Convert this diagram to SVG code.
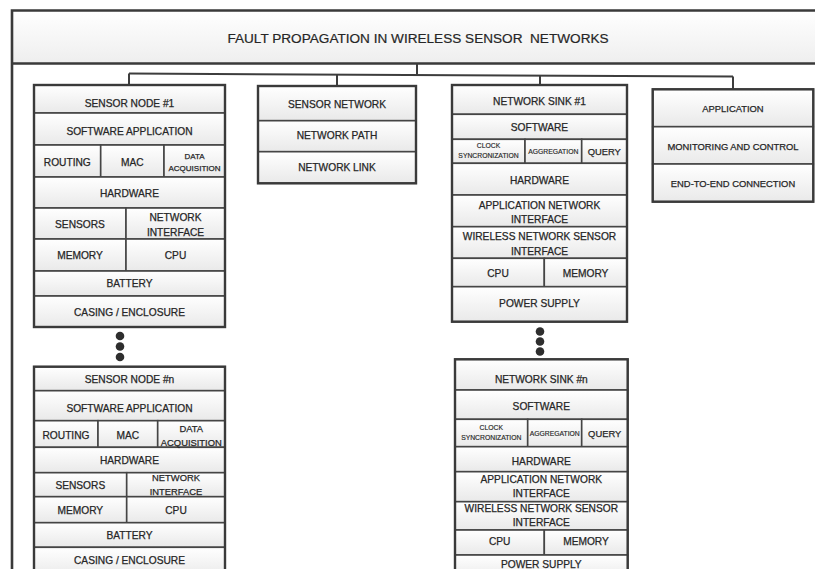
<svg xmlns="http://www.w3.org/2000/svg" width="815" height="569" viewBox="0 0 815 569">
  <defs>
    <linearGradient id="cellFill" x1="0" y1="0" x2="0" y2="1">
      <stop offset="0" stop-color="#ffffff"/>
      <stop offset="1" stop-color="#e9e9e9"/>
    </linearGradient>
    <linearGradient id="titleFill" x1="0" y1="0" x2="0" y2="1">
      <stop offset="0" stop-color="#ffffff"/>
      <stop offset="1" stop-color="#eeeeee"/>
    </linearGradient>
  </defs>
  <style>
    .cell { fill: url(#cellFill); stroke: #454545; stroke-width: 1.6; }
    .box { fill: none; stroke: #3a3a3a; stroke-width: 2.4; }
    .frame { fill: none; stroke: #3a3a3a; stroke-width: 2.6; }
    .wire { fill: none; stroke: #3d3d3d; stroke-width: 2; }
    .dot { fill: #2e2e2e; }
    text { font-family: "Liberation Sans", Arial, sans-serif; fill: #262626; stroke: #262626; stroke-width: 0.25; text-anchor: middle; }
    .t { font-size: 10.2px; }
    .ta { font-size: 9.4px; }
    .ts { font-size: 8px; }
    .tn { font-size: 9.4px; }
    .tq { font-size: 9.4px; }
    .tx { font-size: 6.8px; stroke-width: 0.15; }
    .title { font-size: 13.6px; white-space: pre; stroke-width: 0.2; }
  </style>

  <rect width="815" height="569" fill="#ffffff"/>

  <!-- outer frame and title band -->
  <g id="title">
    <rect x="12" y="10.5" width="820" height="53" fill="url(#titleFill)"/>
    <path class="frame" d="M12 580 V10.5 H830 M12 63.5 H830"/>
    <text class="title" x="418" y="43">FAULT PROPAGATION IN WIRELESS SENSOR  NETWORKS</text>
  </g>

  <!-- tree connectors from the title band -->
  <g id="connectors">
    <path class="wire" d="M417 63.5 V74.8"/>
    <path class="wire" d="M129 73.6 L733 76.6"/>
    <path class="wire" d="M129 73.6 V85"/>
    <path class="wire" d="M337 74.6 V86"/>
    <path class="wire" d="M540 75.6 V85"/>
    <path class="wire" d="M733 76.6 V89.3"/>
    <!-- ellipsis dots between first and n-th elements -->
    <circle class="dot" cx="120" cy="336" r="4.3"/>
    <circle class="dot" cx="120" cy="346.5" r="4.3"/>
    <circle class="dot" cx="120" cy="357" r="4.3"/>
    <circle class="dot" cx="540" cy="331.5" r="4.3"/>
    <circle class="dot" cx="540" cy="341.5" r="4.3"/>
    <circle class="dot" cx="540" cy="351.5" r="4.3"/>
  </g>

  <!-- sensor node #1 -->
  <g id="sensor-node-1">
    <rect class="cell" x="34" y="85" width="191" height="28"/>
    <rect class="cell" x="34" y="113" width="191" height="32"/>
    <rect class="cell" x="34" y="145" width="66.7" height="32"/>
    <rect class="cell" x="100.7" y="145" width="63.3" height="32"/>
    <rect class="cell" x="164" y="145" width="61" height="32"/>
    <rect class="cell" x="34" y="177" width="191" height="31"/>
    <rect class="cell" x="34" y="208" width="92" height="31"/>
    <rect class="cell" x="126" y="208" width="99" height="31"/>
    <rect class="cell" x="34" y="239" width="92" height="32"/>
    <rect class="cell" x="126" y="239" width="99" height="32"/>
    <rect class="cell" x="34" y="271" width="191" height="25"/>
    <rect class="cell" x="34" y="296" width="191" height="31"/>
    <rect class="box" x="34" y="85" width="191" height="242"/>
    <text class="t" x="129.5" y="107.3">SENSOR NODE #1</text>
    <text class="t" x="129.5" y="135">SOFTWARE APPLICATION</text>
    <text class="t" x="67.3" y="166">ROUTING</text>
    <text class="t" x="132.3" y="166">MAC</text>
    <text class="ts" x="194.5" y="159.3">DATA</text>
    <text class="ts" x="194.5" y="170.7">ACQUISITION</text>
    <text class="t" x="129.5" y="196.7">HARDWARE</text>
    <text class="t" x="80" y="228.3">SENSORS</text>
    <text class="t" x="175.5" y="220.7">NETWORK</text>
    <text class="t" x="175.5" y="236">INTERFACE</text>
    <text class="t" x="80" y="259.3">MEMORY</text>
    <text class="t" x="175.5" y="259.3">CPU</text>
    <text class="t" x="129.5" y="287.3">BATTERY</text>
    <text class="t" x="129.5" y="316">CASING / ENCLOSURE</text>
  </g>

  <!-- sensor network -->
  <g id="sensor-network">
    <rect class="cell" x="258" y="86" width="158" height="34.7"/>
    <rect class="cell" x="258" y="120.7" width="158" height="31"/>
    <rect class="cell" x="258" y="151.7" width="158" height="31.6"/>
    <rect class="box" x="258" y="86" width="158" height="97.3"/>
    <text class="t" x="337" y="108.3">SENSOR NETWORK</text>
    <text class="t" x="337" y="139.3">NETWORK PATH</text>
    <text class="t" x="337" y="170.7">NETWORK LINK</text>
  </g>

  <!-- network sink #1 -->
  <g id="network-sink-1">
    <rect class="cell" x="452" y="85" width="175" height="29.3"/>
    <rect class="cell" x="452" y="114.3" width="175" height="25"/>
    <rect class="cell" x="452" y="139.3" width="73" height="24"/>
    <rect class="cell" x="525" y="139.3" width="56.7" height="24"/>
    <rect class="cell" x="581.7" y="139.3" width="45.3" height="24"/>
    <rect class="cell" x="452" y="163.3" width="175" height="31.7"/>
    <rect class="cell" x="452" y="195" width="175" height="31.7"/>
    <rect class="cell" x="452" y="226.7" width="175" height="31.6"/>
    <rect class="cell" x="452" y="258.3" width="92.3" height="28.4"/>
    <rect class="cell" x="544.3" y="258.3" width="82.7" height="28.4"/>
    <rect class="cell" x="452" y="286.7" width="175" height="35"/>
    <rect class="box" x="452" y="85" width="175" height="236.7"/>
    <text class="t" x="539.5" y="105">NETWORK SINK #1</text>
    <text class="t" x="539.5" y="131">SOFTWARE</text>
    <text class="tx" x="488.5" y="148.3">CLOCK</text>
    <text class="tx" x="488.5" y="158.3">SYNCRONIZATION</text>
    <text class="tx" x="553.3" y="154">AGGREGATION</text>
    <text class="tq" x="604.3" y="155">QUERY</text>
    <text class="t" x="539.5" y="184.3">HARDWARE</text>
    <text class="t" x="539.5" y="209">APPLICATION NETWORK</text>
    <text class="t" x="539.5" y="223.3">INTERFACE</text>
    <text class="t" x="539.5" y="240">WIRELESS NETWORK SENSOR</text>
    <text class="t" x="539.5" y="255">INTERFACE</text>
    <text class="t" x="498" y="277.3">CPU</text>
    <text class="t" x="585.6" y="277.3">MEMORY</text>
    <text class="t" x="539.5" y="307.3">POWER SUPPLY</text>
  </g>

  <!-- application -->
  <g id="application">
    <rect class="cell" x="652.7" y="89.3" width="160.6" height="37.4"/>
    <rect class="cell" x="652.7" y="126.7" width="160.6" height="37.3"/>
    <rect class="cell" x="652.7" y="164" width="160.6" height="37.7"/>
    <rect class="box" x="652.7" y="89.3" width="160.6" height="112.4"/>
    <text class="ta" x="733" y="112.3">APPLICATION</text>
    <text class="ta" x="733" y="150">MONITORING AND CONTROL</text>
    <text class="ta" x="733" y="187.3">END-TO-END CONNECTION</text>
  </g>

  <!-- sensor node #n -->
  <g id="sensor-node-n">
    <rect class="cell" x="34" y="366.7" width="191" height="24"/>
    <rect class="cell" x="34" y="390.7" width="191" height="30"/>
    <rect class="cell" x="34" y="420.7" width="64" height="26.6"/>
    <rect class="cell" x="98" y="420.7" width="59.7" height="26.6"/>
    <rect class="cell" x="157.7" y="420.7" width="67.3" height="26.6"/>
    <rect class="cell" x="34" y="447.3" width="191" height="25.4"/>
    <rect class="cell" x="34" y="472.7" width="92.7" height="24"/>
    <rect class="cell" x="126.7" y="472.7" width="98.3" height="24"/>
    <rect class="cell" x="34" y="496.7" width="92.7" height="26"/>
    <rect class="cell" x="126.7" y="496.7" width="98.3" height="26"/>
    <rect class="cell" x="34" y="522.7" width="191" height="24.6"/>
    <rect class="cell" x="34" y="547.3" width="191" height="30"/>
    <rect class="box" x="34" y="366.7" width="191" height="215"/>
    <text class="t" x="129.5" y="383.3">SENSOR NODE #n</text>
    <text class="t" x="129.5" y="411.7">SOFTWARE APPLICATION</text>
    <text class="t" x="66" y="439.3">ROUTING</text>
    <text class="t" x="127.8" y="439.3">MAC</text>
    <text class="tn" x="191.3" y="431.7">DATA</text>
    <text class="tn" x="191.3" y="446">ACQUISITION</text>
    <text class="t" x="129.5" y="464">HARDWARE</text>
    <text class="t" x="80.3" y="489.3">SENSORS</text>
    <text class="tn" x="176" y="480.7">NETWORK</text>
    <text class="tn" x="176" y="495">INTERFACE</text>
    <text class="t" x="80.3" y="514.3">MEMORY</text>
    <text class="t" x="176" y="514.3">CPU</text>
    <text class="t" x="129.5" y="539.3">BATTERY</text>
    <text class="t" x="129.5" y="564">CASING / ENCLOSURE</text>
  </g>

  <!-- network sink #n -->
  <g id="network-sink-n">
    <rect class="cell" x="455" y="359.3" width="172.7" height="30.7"/>
    <rect class="cell" x="455" y="390" width="172.7" height="29.3"/>
    <rect class="cell" x="455" y="419.3" width="72.7" height="27.4"/>
    <rect class="cell" x="527.7" y="419.3" width="54" height="27.4"/>
    <rect class="cell" x="581.7" y="419.3" width="46" height="27.4"/>
    <rect class="cell" x="455" y="446.7" width="172.7" height="25"/>
    <rect class="cell" x="455" y="471.7" width="172.7" height="30"/>
    <rect class="cell" x="455" y="501.7" width="172.7" height="28.3"/>
    <rect class="cell" x="455" y="530" width="89.3" height="25"/>
    <rect class="cell" x="544.3" y="530" width="83.4" height="25"/>
    <rect class="cell" x="455" y="555" width="172.7" height="25"/>
    <rect class="box" x="455" y="359.3" width="172.7" height="222"/>
    <text class="t" x="541.3" y="383.3">NETWORK SINK #n</text>
    <text class="t" x="541.3" y="410">SOFTWARE</text>
    <text class="tx" x="491.3" y="430">CLOCK</text>
    <text class="tx" x="491.3" y="440">SYNCRONIZATION</text>
    <text class="tx" x="554.7" y="435.7">AGGREGATION</text>
    <text class="tq" x="604.7" y="436.7">QUERY</text>
    <text class="t" x="541.3" y="465">HARDWARE</text>
    <text class="t" x="541.3" y="483.3">APPLICATION NETWORK</text>
    <text class="t" x="541.3" y="497.3">INTERFACE</text>
    <text class="t" x="541.3" y="511.7">WIRELESS NETWORK SENSOR</text>
    <text class="t" x="541.3" y="526">INTERFACE</text>
    <text class="t" x="499.7" y="545">CPU</text>
    <text class="t" x="586" y="545">MEMORY</text>
    <text class="t" x="541.3" y="568.3">POWER SUPPLY</text>
  </g>
</svg>
